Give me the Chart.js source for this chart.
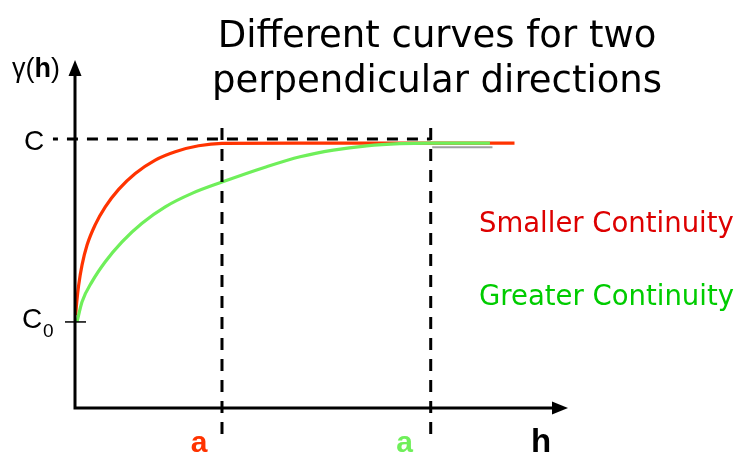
<!DOCTYPE html>
<html>
<head>
<meta charset="utf-8">
<script src="https://cdn.jsdelivr.net/npm/chart.js@4/dist/chart.umd.min.js"></script>
<style>
  html, body { margin: 0; padding: 0; background: #ffffff; }
  canvas { display: block; }
</style>
</head>
<body>
<canvas id="vario" width="738" height="457"></canvas>
<script>
// Variogram parameters
const sillC = 10;        // sill C
const nuggetC0 = 3.2;    // nugget C0
const rangeRed = 1.0;    // range, direction of smaller continuity
const rangeGreen = 2.42; // range, direction of greater continuity

// Variogram curve, smaller continuity
const redH     = [0.004, 0.012, 0.025, 0.048, 0.082, 0.138, 0.206, 0.297, 0.41, 0.546, 0.682, 0.841, 1.0, 1.5, 2.99];
const redGamma = [3.45,  3.95,  4.57,  5.32,  6.06,  6.82,  7.48,  8.13,  8.72, 9.22,  9.53,  9.75,  9.84, 9.85, 9.85];

// Variogram curve, greater continuity
const greenH     = [0.0136, 0.048, 0.116, 0.206, 0.32, 0.456, 0.614, 0.796, 1.0,  1.304, 1.531, 1.757, 1.984, 2.21, 2.42, 2.823];
const greenGamma = [3.2,    3.95,  4.70,  5.44,  6.18, 6.87,  7.48,  7.98,  8.40, 8.97,  9.34,  9.59,  9.75,  9.83, 9.85, 9.85];

// Short grey segment below the plateau
const greyH     = [2.43, 2.84];
const greyGamma = [9.70, 9.70];

// Text
const titleLines = ['Different curves for two', 'perpendicular directions'];
const legendRed = 'Smaller Continuity';
const legendGreen = 'Greater Continuity';

const RED = '#ff3300';
const GREEN = '#6fef5a';

const pts = (xs, ys) => xs.map((x, i) => ({ x: x, y: ys[i] }));

const annotations = {
  id: 'annotations',
  afterDatasetsDraw(chart) {
    const ctx = chart.ctx;
    const xs = chart.scales.x, ys = chart.scales.y;
    const x0 = xs.getPixelForValue(0), y0 = ys.getPixelForValue(0);
    const xEnd = xs.right, yTop = ys.top;
    ctx.save();

    // axes with arrow heads
    ctx.strokeStyle = '#000';
    ctx.fillStyle = '#000';
    ctx.lineWidth = 3;
    ctx.lineCap = 'butt';
    ctx.beginPath();
    ctx.moveTo(x0, y0 + 1.5);
    ctx.lineTo(x0, yTop + 12);
    ctx.moveTo(x0 - 1.5, y0);
    ctx.lineTo(xEnd - 14, y0);
    ctx.stroke();
    ctx.beginPath();
    ctx.moveTo(x0, yTop);
    ctx.lineTo(x0 - 6.5, yTop + 16);
    ctx.lineTo(x0 + 6.5, yTop + 16);
    ctx.closePath();
    ctx.fill();
    ctx.beginPath();
    ctx.moveTo(xEnd, y0);
    ctx.lineTo(xEnd - 16, y0 - 6.5);
    ctx.lineTo(xEnd - 16, y0 + 6.5);
    ctx.closePath();
    ctx.fill();

    // nugget tick
    const yC0 = ys.getPixelForValue(nuggetC0);
    ctx.lineWidth = 1.5;
    ctx.beginPath();
    ctx.moveTo(x0 - 10, yC0);
    ctx.lineTo(x0 + 11, yC0);
    ctx.stroke();

    // axis labels
    ctx.textBaseline = 'alphabetic';
    ctx.textAlign = 'left';
    const gx = x0 - 63, gy = yTop + 17;
    ctx.font = '27px "Liberation Sans", Arial, sans-serif';
    ctx.fillText('\u03B3(', gx, gy);
    let w = ctx.measureText('\u03B3(').width;
    ctx.font = 'bold 27px "Liberation Sans", Arial, sans-serif';
    ctx.fillText('h', gx + w, gy);
    w += ctx.measureText('h').width;
    ctx.font = '27px "Liberation Sans", Arial, sans-serif';
    ctx.fillText(')', gx + w, gy);

    const yC = ys.getPixelForValue(sillC);
    ctx.font = '28px "Liberation Sans", Arial, sans-serif';
    ctx.fillText('C', x0 - 51, yC + 11);
    ctx.fillText('C', x0 - 53, yC0 + 6);
    ctx.font = '19px "Liberation Sans", Arial, sans-serif';
    ctx.fillText('0', x0 - 32, yC0 + 15);

    ctx.font = 'bold 33px "Liberation Sans", Arial, sans-serif';
    ctx.textAlign = 'center';
    ctx.fillText('h', xEnd - 27, y0 + 44);

    ctx.font = 'bold 30px "Liberation Sans", Arial, sans-serif';
    ctx.fillStyle = RED;
    ctx.fillText('a', xs.getPixelForValue(rangeRed) - 23, y0 + 44);
    ctx.fillStyle = GREEN;
    ctx.fillText('a', xs.getPixelForValue(rangeGreen) - 26, y0 + 44);

    // title
    ctx.fillStyle = '#000';
    ctx.font = '37px "DejaVu Sans", Verdana, sans-serif';
    ctx.fillText(titleLines[0], 437, 47);
    ctx.fillText(titleLines[1], 437, 92);

    // legend text
    ctx.textAlign = 'left';
    ctx.font = '27.5px "DejaVu Sans", Verdana, sans-serif';
    ctx.fillStyle = '#dd0000';
    ctx.fillText(legendRed, 479, 232);
    ctx.fillStyle = '#00cc00';
    ctx.fillText(legendGreen, 479, 305);

    ctx.restore();
  }
};

new Chart(document.getElementById('vario'), {
  type: 'scatter',
  data: {
    datasets: [
      { // dashed guide at the sill
        data: [{ x: -0.15, y: sillC }, { x: rangeGreen, y: sillC }],
        borderColor: '#000', borderWidth: 3, borderDash: [11, 9], borderDashOffset: 6,
        showLine: true, pointRadius: 0, clip: false, order: 1
      },
      { // dashed guide at the smaller range
        data: [{ x: rangeRed, y: 10.41 }, { x: rangeRed, y: -1.0 }],
        borderColor: '#000', borderWidth: 3, borderDash: [12, 9],
        showLine: true, pointRadius: 0, clip: false, order: 1
      },
      { // dashed guide at the greater range
        data: [{ x: rangeGreen, y: 10.41 }, { x: rangeGreen, y: -1.0 }],
        borderColor: '#000', borderWidth: 3, borderDash: [12, 9],
        showLine: true, pointRadius: 0, clip: false, order: 1
      },
      {
        data: pts(greyH, greyGamma),
        borderColor: '#a0a0a0', borderWidth: 2,
        showLine: true, pointRadius: 0, clip: false, order: 4
      },
      {
        label: legendGreen,
        data: pts(greenH, greenGamma),
        borderColor: GREEN, borderWidth: 3.2, cubicInterpolationMode: 'monotone',
        showLine: true, pointRadius: 0, clip: false, order: 2
      },
      {
        label: legendRed,
        data: pts(redH, redGamma),
        borderColor: RED, borderWidth: 3.2, cubicInterpolationMode: 'monotone',
        showLine: true, pointRadius: 0, clip: false, order: 3
      }
    ]
  },
  options: {
    responsive: false,
    animation: false,
    events: [],
    layout: { padding: { left: 75, right: 170, top: 60, bottom: 49 } },
    plugins: { legend: { display: false }, tooltip: { enabled: false }, title: { display: false } },
    scales: {
      x: { type: 'linear', min: 0, max: 3.354, display: false },
      y: { type: 'linear', min: 0, max: 12.94, display: false }
    }
  },
  plugins: [annotations]
});
</script>
</body>
</html>
